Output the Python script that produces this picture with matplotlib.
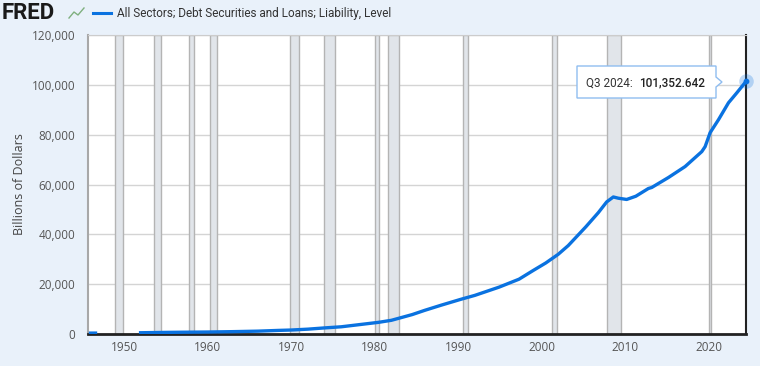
import matplotlib.pyplot as plt
import numpy as np
from matplotlib.patches import Polygon

plt.rcParams["font.family"] = ["Open Sans", "DejaVu Sans"]

# all sectors debt, billions of dollars
years = [1945.75, 1946.75, 1947.0,
         1951.75, 1953, 1955, 1957, 1960, 1963, 1966, 1968.5, 1970, 1972,
         1974, 1976, 1978, 1980.5, 1982, 1984.5, 1986, 1988, 1990.4,
         1992, 1994.9, 1997.3, 1999, 2000.5, 2002, 2003.2, 2005.3, 2006.8,
         2007.8, 2008.6, 2009.2, 2010.2, 2011.3, 2012.8, 2013.2, 2015.2,
         2017.2, 2019.2, 2019.6, 2020.2, 2021.2, 2022.4, 2023.4, 2024.5]
debt = [360, 370, np.nan,
        500, 560, 650, 720, 800, 950, 1150, 1450, 1600, 1950,
        2450, 2900, 3700, 4700, 5500, 7800, 9500, 11600, 14000,
        15500, 18800, 22000, 25500, 28500, 32000, 35500, 43000, 48700,
        53000, 55000, 54500, 54000, 55300, 58400, 58800, 62800,
        67200, 73200, 75200, 80800, 86000, 92800, 96800, 101352.642]

recessions = [(1948.9, 1949.8), (1953.6, 1954.4), (1957.7, 1958.3),
              (1960.3, 1961.1), (1969.9, 1970.9), (1973.9, 1975.2),
              (1980.0, 1980.5), (1981.6, 1982.9), (1990.6, 1991.2),
              (2001.2, 2001.9), (2007.9, 2009.5), (2020.1, 2020.3)]

bg = "#e9f1fa"
blue = "#0a72e0"

fig = plt.figure(figsize=(7.6, 3.66), dpi=100, facecolor=bg)
ax = fig.add_axes([0.1158, 0.0874, 0.9816 - 0.1158, 0.9044 - 0.0874])
ax.set_facecolor("white")

for a, b in recessions:
    ax.axvspan(a, b, facecolor="#e1e5ea", edgecolor="#b4b4b4", lw=1.0, zorder=1)

ax.set_xlim(1945.65, 2024.5)
ax.set_ylim(0, 120000)
ax.set_yticks(range(0, 120001, 20000))
ax.set_yticklabels([f"{v:,}" for v in range(0, 120001, 20000)])
ax.set_xticks(range(1950, 2021, 10))
ax.grid(axis="y", color="#d4d4d4", lw=1.0, zorder=0)
ax.set_axisbelow(True)

ax.plot(years, debt, color=blue, lw=2.4, zorder=3, solid_capstyle="butt")

# highlighted last point
ax.scatter([years[-1]], [debt[-1]], s=110, color=blue, alpha=0.25, lw=0, zorder=4, clip_on=False)
ax.scatter([years[-1]], [debt[-1]], s=10, color=blue, zorder=5, clip_on=False)

ax.tick_params(axis="both", length=0, colors="#555555", labelsize=8.5)
ax.tick_params(axis="x", pad=5)
ax.tick_params(axis="y", pad=9)
ax.spines["top"].set_color("#cccccc")
ax.spines["left"].set_color("#a8a8a8")
ax.spines["left"].set_linewidth(1.5)
ax.spines["right"].set_color("#222222")
ax.spines["right"].set_linewidth(1.5)
ax.spines["bottom"].set_color("#222222")
ax.spines["bottom"].set_linewidth(2.0)

ax.set_ylabel("Billions of Dollars", fontsize=9, color="#444444", labelpad=4)

# tooltip box
tip = Polygon([(577, 300), (716, 300), (716, 289), (722, 284), (716, 279),
               (716, 268), (577, 268)], closed=True, transform=None,
              facecolor="white", edgecolor="#8fbdf0", lw=1.0, zorder=10)
fig.patches.append(tip)
fig.text(586 / 760, 1 - 83 / 366, "Q3 2024:", fontsize=8.5, color="#333333", va="center", zorder=12,
         family=["Roboto", "DejaVu Sans"])
fig.text(639 / 760, 1 - 83 / 366, "101,352.642", fontsize=8.5, color="#222222", va="center",
         fontweight="medium", zorder=12, family=["Roboto", "DejaVu Sans"])

# header
fig.text(0.002, 1 - 13 / 366, "FRED", fontsize=16, fontweight="bold", color="#1a1a1a", va="center",
         family=["Roboto", "DejaVu Sans"])
fig.lines.append(plt.Line2D([93 / 760, 111 / 760], [1 - 13 / 366] * 2, color=blue, lw=2.2,
                            transform=fig.transFigure))
fig.lines.append(plt.Line2D([69 / 760, 74 / 760, 78 / 760, 84 / 760],
                            [1 - 18 / 366, 1 - 12 / 366, 1 - 15 / 366, 1 - 8 / 366],
                            color="#7fb07f", lw=1.0, transform=fig.transFigure))
fig.text(117 / 760, 1 - 13 / 366, "All Sectors; Debt Securities and Loans; Liability, Level",
         fontsize=8.5, color="#333333", va="center", family=["Roboto", "DejaVu Sans"])

fig.savefig("out.png", dpi=100, facecolor=bg)
